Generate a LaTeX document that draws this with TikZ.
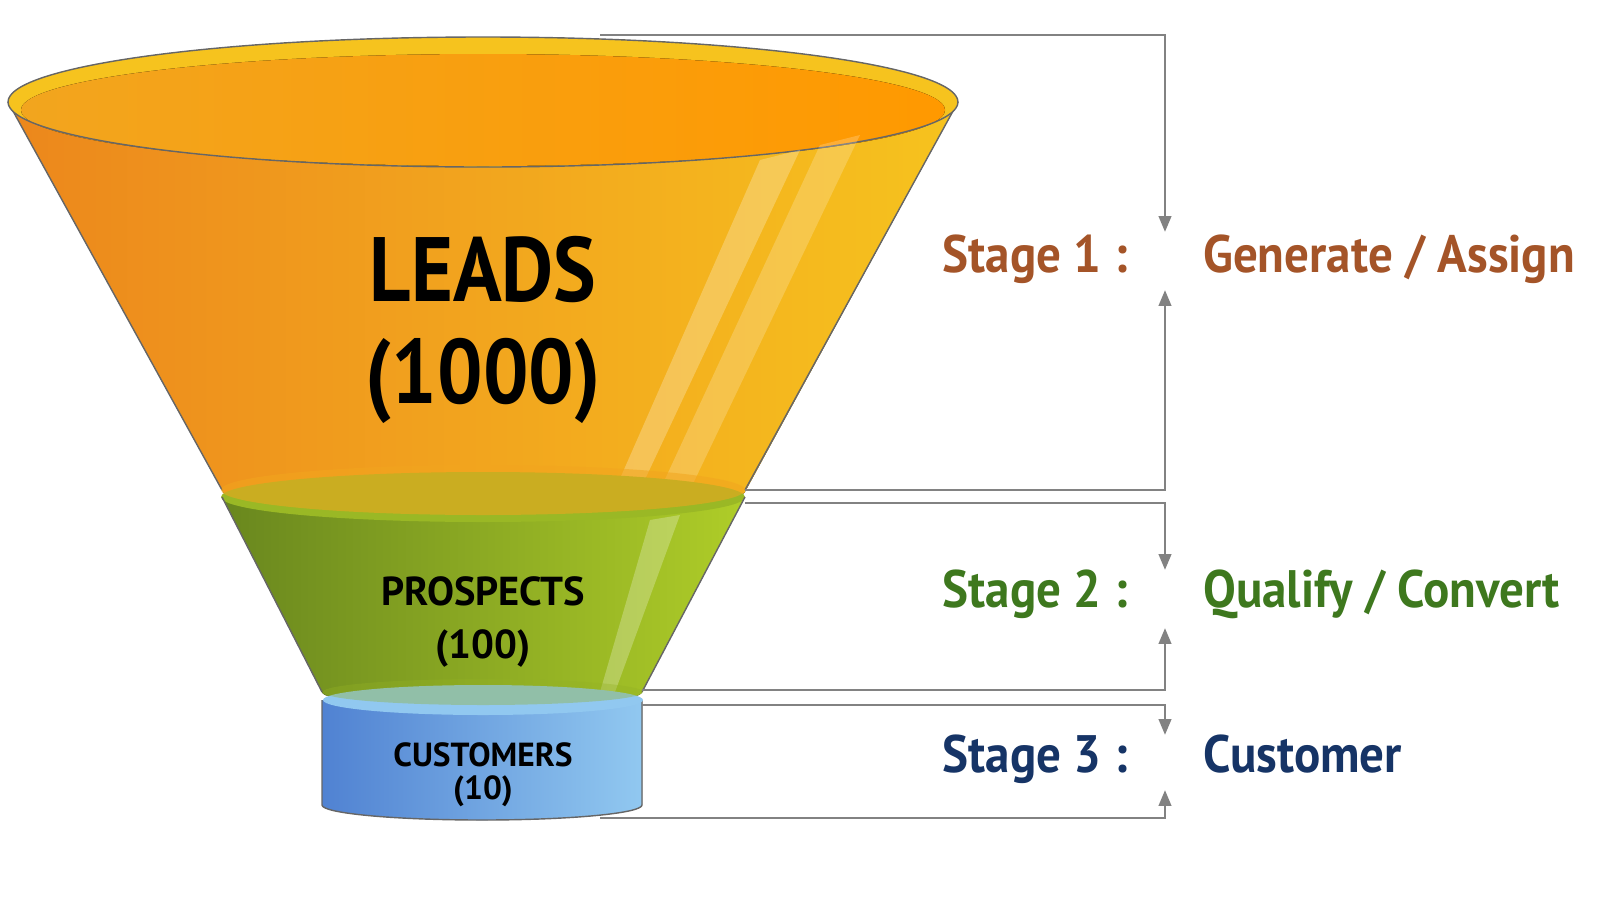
\documentclass[tikz,border=0pt]{standalone}
\usepackage{fontspec}
\setmainfont{PT Sans}
\usetikzlibrary{positioning,arrows.meta}
\definecolor{stageone}{RGB}{164,84,40}
\definecolor{stagetwo}{RGB}{62,120,30}
\definecolor{stagethree}{RGB}{22,52,102}
\definecolor{bracket}{RGB}{130,130,130}
\definecolor{leadsl}{RGB}{236,135,28}
\definecolor{leadsm}{RGB}{242,165,30}
\definecolor{leadsr}{RGB}{246,195,30}
\definecolor{prosl}{RGB}{105,135,30}
\definecolor{prosr}{RGB}{175,205,40}
\definecolor{custl}{RGB}{80,130,210}
\definecolor{custr}{RGB}{145,200,240}
\tikzset{
  bracketline/.style={draw=bracket,line width=1.6pt},
  bracketarrow/.style={bracketline,-{Triangle[length=9pt,width=7pt]}},
  stagelabel/.style={font=\bfseries\fontsize{30}{34}\selectfont,anchor=base},
  funnellabel/.style={align=center,text=black,inner sep=0pt}
}
\newcommand{\narrow}[2][0.93]{\scalebox{#1}[1]{#2}}
\begin{document}
\begin{tikzpicture}[x=0.02cm,y=-0.02cm]
  \useasboundingbox (0,0) rectangle (1600,910);
  % Funnel body: leads
  \fill[left color=leadsl,right color=leadsr,middle color=leadsm]
    (8,102) -- (222,490) arc[start angle=180,end angle=0,x radius=262,y radius=25]
    -- (958,102) arc[start angle=0,end angle=-180,x radius=475,y radius=65];
  \draw[black!60,line width=0.8pt] (8,102) -- (222,490) (958,102) -- (745,490);
  \fill[leadsr] (483,102) ellipse[x radius=475,y radius=65];
  \fill[left color=leadsm,right color=orange!80!yellow] (483,110) ellipse[x radius=462,y radius=56];
  \draw[black!60,line width=0.8pt] (483,102) ellipse[x radius=475,y radius=65];
  % light streaks
  \fill[white,opacity=0.25] (760,160) -- (800,150) -- (640,490) -- (615,490) -- cycle;
  \fill[white,opacity=0.2] (820,145) -- (860,135) -- (690,490) -- (660,490) -- cycle;
  % Funnel body: prospects
  \fill[left color=prosl,right color=prosr,middle color=prosl!50!prosr]
    (222,497) -- (322,692) arc[start angle=180,end angle=0,x radius=160,y radius=15]
    -- (745,497) -- cycle;
  \fill[prosr!70!prosl] (483,497) ellipse[x radius=262,y radius=25];
  \fill[leadsm,opacity=0.55] (483,490) ellipse[x radius=262,y radius=25];
  \draw[black!60,line width=0.8pt] (222,497) -- (322,692) (745,497) -- (642,692);
  \fill[white,opacity=0.25] (650,520) -- (680,515) -- (615,692) -- (600,692) -- cycle;
  % Funnel body: customers
  \fill[left color=custl,right color=custr]
    (322,700) -- (322,805) arc[start angle=180,end angle=0,x radius=160,y radius=15]
    -- (642,700) -- cycle;
  \draw[black!60,line width=0.8pt] (322,700) -- (322,805) arc[start angle=180,end angle=0,x radius=160,y radius=15] -- (642,700);
  \fill[custr] (483,700) ellipse[x radius=160,y radius=15];
  \fill[prosr!60!prosl,opacity=0.35] (483,692) ellipse[x radius=160,y radius=13];
  % Funnel labels
  \node[funnellabel,font=\bfseries\fontsize{52}{58}\selectfont] (leads) at (483,330) {\narrow[0.88]{LEADS}\\\narrow[0.88]{(1000)}};
  \node[funnellabel,font=\bfseries\fontsize{23}{30}\selectfont] (prospects) at (483,622) {PROSPECTS\\(100)};
  \node[funnellabel,font=\bfseries\fontsize{19}{19}\selectfont] (customers) at (483,775) {CUSTOMERS\\(10)};
  % Bracket coordinates
  \coordinate (s1top) at (600,35);   \coordinate (s1topc) at (1165,35);
  \coordinate (s1topa) at (1165,232);
  \coordinate (s1bot) at (745,490);  \coordinate (s1botc) at (1165,490);
  \coordinate (s1bota) at (1165,290);
  \coordinate (s2top) at (745,503);  \coordinate (s2topc) at (1165,503);
  \coordinate (s2topa) at (1165,570);
  \coordinate (s2bot) at (642,690);  \coordinate (s2botc) at (1165,690);
  \coordinate (s2bota) at (1165,628);
  \coordinate (s3top) at (642,705);  \coordinate (s3topc) at (1165,705);
  \coordinate (s3topa) at (1165,735);
  \coordinate (s3bot) at (600,818);  \coordinate (s3botc) at (1165,818);
  \coordinate (s3bota) at (1165,790);
  % Brackets
  \draw[bracketarrow] (s1top) -- (s1topc) -- (s1topa);
  \draw[bracketarrow] (s1bot) -- (s1botc) -- (s1bota);
  \draw[bracketarrow] (s2top) -- (s2topc) -- (s2topa);
  \draw[bracketarrow] (s2bot) -- (s2botc) -- (s2bota);
  \draw[bracketarrow] (s3top) -- (s3topc) -- (s3topa);
  \draw[bracketarrow] (s3bot) -- (s3botc) -- (s3bota);
  % Stage labels
  \node[stagelabel,text=stageone] (stage1) at (1035,272) {\narrow{Stage 1 :}};
  \node[stagelabel,text=stageone,anchor=base west] (task1) at (1197,272) {\narrow{Generate / Assign}};
  \node[stagelabel,text=stagetwo] (stage2) at (1035,607) {\narrow{Stage 2 :}};
  \node[stagelabel,text=stagetwo,anchor=base west] (task2) at (1197,607) {\narrow{Qualify / Convert}};
  \node[stagelabel,text=stagethree] (stage3) at (1035,772) {\narrow{Stage 3 :}};
  \node[stagelabel,text=stagethree,anchor=base west] (task3) at (1197,772) {\narrow{Customer}};
\end{tikzpicture}
\end{document}
